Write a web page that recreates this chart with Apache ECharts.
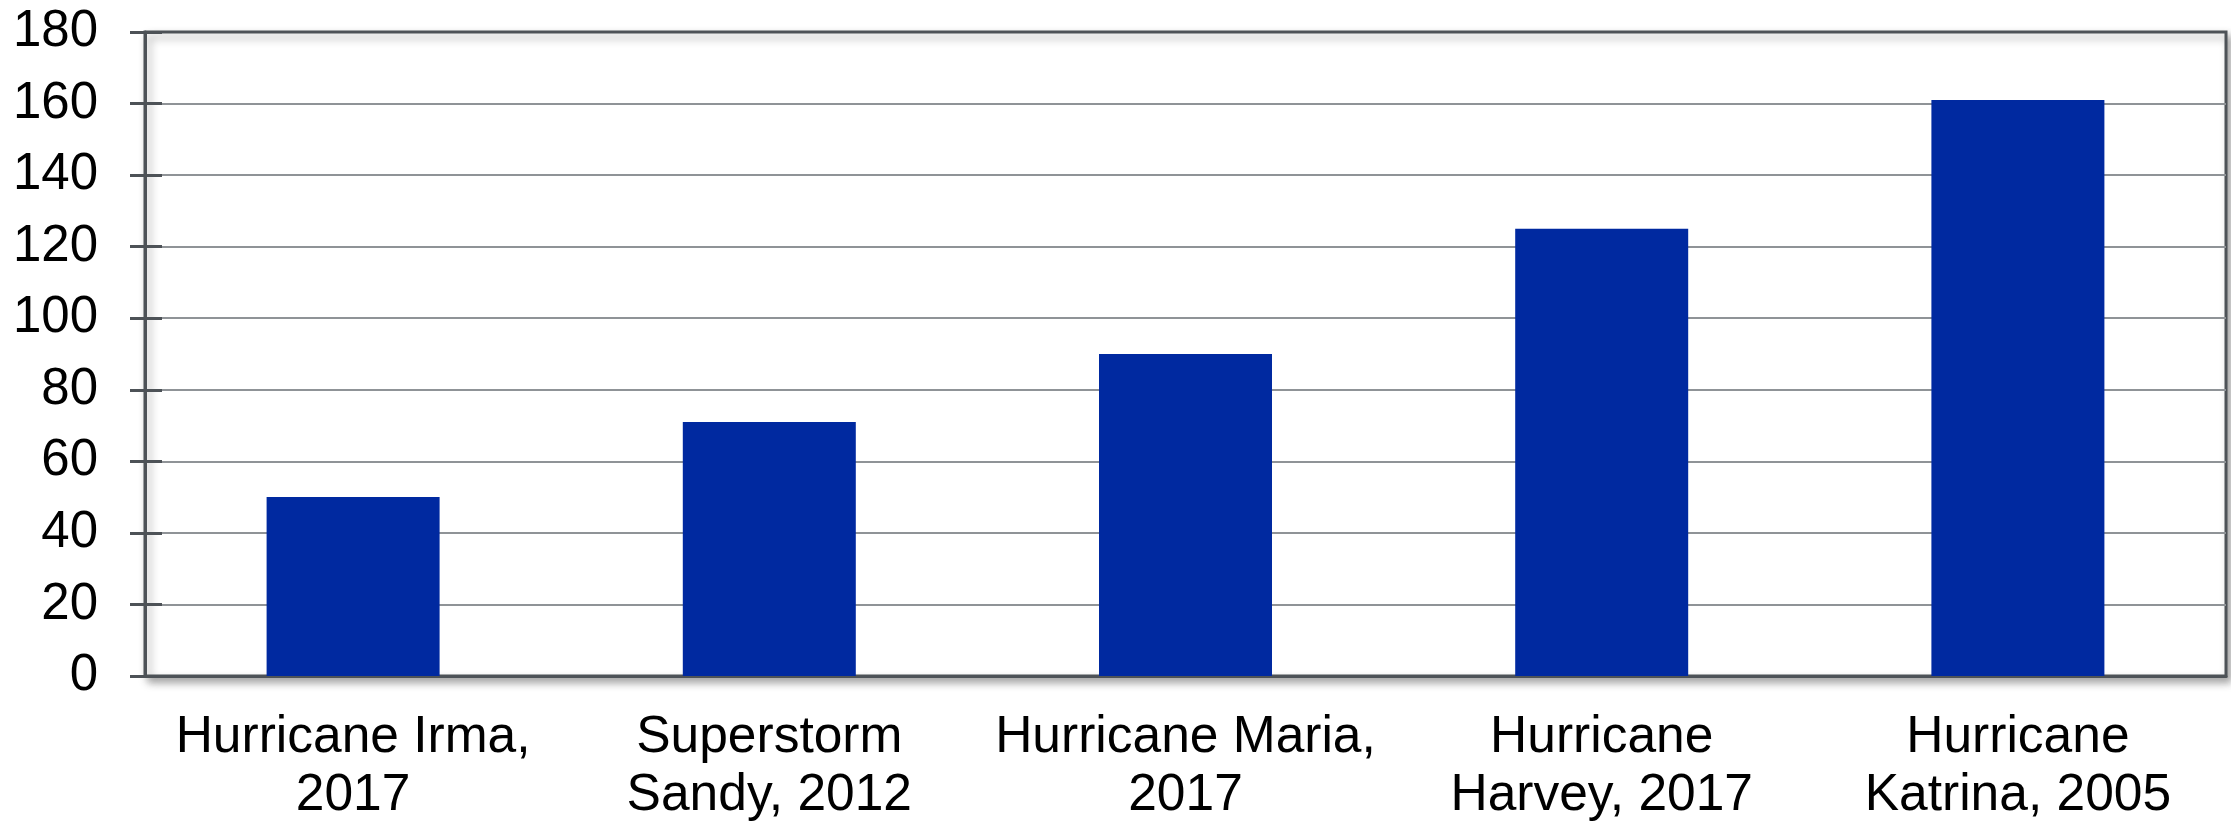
<!DOCTYPE html>
<html>
<head>
<meta charset="utf-8">
<script src="https://cdn.jsdelivr.net/npm/echarts@6/dist/echarts.min.js"></script>
<style>
  html, body { margin: 0; padding: 0; background: #ffffff; }
  #chart { width: 2231px; height: 828px; }
</style>
</head>
<body>
<div id="chart"></div>
<script>
// Storm names (two-line labels) and their values
const categories = [
  'Hurricane Irma,\n2017',
  'Superstorm\nSandy, 2012',
  'Hurricane Maria,\n2017',
  'Hurricane\nHarvey, 2017',
  'Hurricane\nKatrina, 2005'
];
const values = [50, 71, 90, 125, 161];
const yTicks = { min: 0, max: 180, interval: 20 };

const fontFamily = '"Liberation Sans", Arial, sans-serif';
const axisDark = '#4d5257';
const gridGrey = '#8f9397';

const chart = echarts.init(document.getElementById('chart'), null, { renderer: 'canvas' });

chart.setOption({
  animation: false,
  backgroundColor: '#ffffff',
  grid: {
    left: 145, right: 5, top: 32, bottom: 152,
    show: true,
    backgroundColor: '#ffffff',
    borderColor: axisDark,
    borderWidth: 3,
    shadowColor: 'rgba(0,0,0,0.35)',
    shadowBlur: 8,
    shadowOffsetX: 4,
    shadowOffsetY: 5
  },
  xAxis: {
    type: 'category',
    data: categories,
    axisLine: { show: true, lineStyle: { color: axisDark, width: 3 } },
    axisTick: { show: false },
    splitLine: { show: false },
    axisLabel: {
      color: '#000000',
      fontFamily: fontFamily,
      fontSize: 51.5,
      lineHeight: 58,
      margin: 33,
      interval: 0
    }
  },
  yAxis: [
    {
      type: 'value',
      min: yTicks.min, max: yTicks.max, interval: yTicks.interval,
      axisLine: { show: true, lineStyle: { color: axisDark, width: 3 } },
      axisTick: { show: true, length: 15, lineStyle: { color: axisDark, width: 3 } },
      splitLine: {
        show: true,
        showMinLine: false,
        showMaxLine: false,
        lineStyle: { color: gridGrey, width: 2 }
      },
      axisLabel: {
        color: '#000000',
        fontFamily: fontFamily,
        fontSize: 51,
        margin: 47
      }
    },
    {
      // inner half of the crossing tick marks
      type: 'value',
      position: 'left',
      min: yTicks.min, max: yTicks.max, interval: yTicks.interval,
      axisLine: { show: false },
      axisTick: { show: true, inside: true, length: 17, lineStyle: { color: axisDark, width: 3 } },
      splitLine: { show: false },
      axisLabel: { show: false }
    }
  ],
  series: [
    {
      type: 'bar',
      data: values,
      yAxisIndex: 0,
      barWidth: 173,
      itemStyle: { color: '#0029a0' },
      z: 1
    }
  ]
});
</script>
</body>
</html>
